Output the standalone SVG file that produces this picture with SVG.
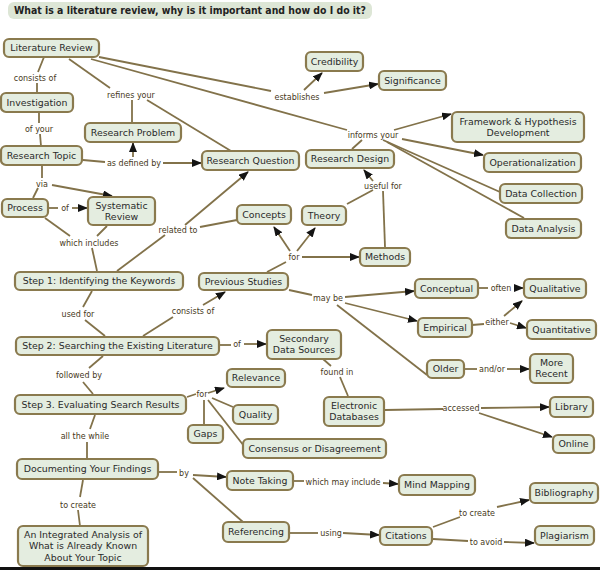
<svg xmlns="http://www.w3.org/2000/svg" width="600" height="570" viewBox="0 0 600 570">
<style>
.nd rect{fill:#e4ede0;stroke:#8a7a4e;stroke-width:2.2}
.nd text{font-family:"DejaVu Sans",Verdana,sans-serif;font-size:9.4px;fill:#2a2a2a;text-anchor:middle}
.lb{font-family:"DejaVu Sans",Verdana,sans-serif;font-size:8px;fill:#47391b;text-anchor:middle}
#connectors line{stroke:#82724a;stroke-width:1.8;fill:none}
#connectors line.a{marker-end:url(#arr)}
.title{font-family:"DejaVu Sans",Verdana,sans-serif;font-size:10px;font-weight:bold;fill:#222}
</style>
<defs>
<marker id="arr" markerUnits="userSpaceOnUse" markerWidth="10" markerHeight="8" refX="9" refY="4" orient="auto">
<path d="M0,0 L10,4 L0,8 z" fill="#141414"/>
</marker>
</defs>
<rect width="600" height="570" fill="#ffffff"/>
<g id="title">
<rect x="8" y="2" width="364" height="17" rx="6" fill="#dde6d6"/>
<text class="title" x="14" y="14" textLength="352" lengthAdjust="spacingAndGlyphs">What is a literature review, why is it important and how do I do it?</text>
</g>
<g id="connectors">
<line x1="44" y1="57" x2="38" y2="72"/>
<line x1="37" y1="83" x2="37" y2="93"/>
<line x1="39" y1="112" x2="39" y2="123"/>
<line x1="40" y1="134" x2="41" y2="146"/>
<line x1="69" y1="59" x2="110" y2="88"/>
<line x1="132" y1="100" x2="132" y2="123"/>
<line x1="147" y1="100" x2="231" y2="151"/>
<line x1="83" y1="160" x2="105" y2="162"/>
<line class="a" x1="133" y1="157" x2="133" y2="143"/>
<line class="a" x1="163" y1="163" x2="201" y2="163"/>
<line x1="99" y1="57" x2="271" y2="91"/>
<line x1="91" y1="59" x2="347" y2="130"/>
<line class="a" x1="304" y1="90" x2="322" y2="73"/>
<line class="a" x1="324" y1="93" x2="378" y2="84"/>
<line x1="362" y1="140" x2="352" y2="149"/>
<line class="a" x1="394" y1="130" x2="451" y2="114"/>
<line class="a" x1="402" y1="139" x2="483" y2="155"/>
<line x1="383" y1="140" x2="500" y2="192"/>
<line x1="387" y1="142" x2="524" y2="218"/>
<line x1="42" y1="166" x2="42" y2="178"/>
<line x1="38" y1="188" x2="33" y2="198"/>
<line class="a" x1="52" y1="185" x2="112" y2="196"/>
<line x1="48" y1="208" x2="58" y2="208"/>
<line class="a" x1="72" y1="208" x2="87" y2="208"/>
<line x1="45" y1="218" x2="70" y2="236"/>
<line x1="107" y1="226" x2="97" y2="236"/>
<line x1="92" y1="248" x2="97" y2="271"/>
<line x1="117" y1="271" x2="165" y2="235"/>
<line class="a" x1="185" y1="225" x2="248" y2="172"/>
<line x1="200" y1="227" x2="237" y2="220"/>
<line x1="92" y1="291" x2="83" y2="307"/>
<line x1="85" y1="320" x2="105" y2="336"/>
<line x1="143" y1="336" x2="173" y2="317"/>
<line class="a" x1="203" y1="305" x2="225" y2="292"/>
<line x1="267" y1="272" x2="286" y2="262"/>
<line class="a" x1="290" y1="251" x2="274" y2="227"/>
<line class="a" x1="297" y1="251" x2="315" y2="228"/>
<line class="a" x1="302" y1="257" x2="359" y2="257"/>
<line x1="385" y1="247" x2="383" y2="191"/>
<line x1="347" y1="204" x2="373" y2="190"/>
<line class="a" x1="373" y1="181" x2="364" y2="170"/>
<line x1="289" y1="290" x2="312" y2="295"/>
<line class="a" x1="345" y1="297" x2="414" y2="291"/>
<line class="a" x1="345" y1="303" x2="417" y2="321"/>
<line x1="337" y1="305" x2="427" y2="375"/>
<line x1="478" y1="288" x2="488" y2="288"/>
<line class="a" x1="514" y1="288" x2="523" y2="288"/>
<line x1="472" y1="325" x2="484" y2="324"/>
<line class="a" x1="504" y1="316" x2="522" y2="301"/>
<line class="a" x1="510" y1="323" x2="526" y2="328"/>
<line x1="464" y1="369" x2="477" y2="369"/>
<line class="a" x1="507" y1="369" x2="529" y2="369"/>
<line x1="219" y1="345" x2="231" y2="345"/>
<line class="a" x1="244" y1="344" x2="266" y2="344"/>
<line x1="323" y1="359" x2="331" y2="366"/>
<line x1="340" y1="377" x2="348" y2="396"/>
<line x1="103" y1="356" x2="89" y2="368"/>
<line x1="83" y1="382" x2="93" y2="394"/>
<line x1="187" y1="397" x2="196" y2="394"/>
<line class="a" x1="208" y1="393" x2="224" y2="388"/>
<line x1="212" y1="398" x2="233" y2="407"/>
<line x1="204" y1="400" x2="204" y2="425"/>
<line x1="208" y1="400" x2="244" y2="446"/>
<line x1="95" y1="415" x2="90" y2="429"/>
<line x1="87" y1="442" x2="87" y2="459"/>
<line x1="158" y1="472" x2="177" y2="472"/>
<line class="a" x1="193" y1="475" x2="226" y2="477"/>
<line x1="193" y1="478" x2="243" y2="522"/>
<line x1="83" y1="480" x2="80" y2="497"/>
<line x1="78" y1="510" x2="80" y2="526"/>
<line x1="294" y1="481" x2="304" y2="481"/>
<line class="a" x1="383" y1="483" x2="398" y2="484"/>
<line x1="385" y1="410" x2="443" y2="409"/>
<line class="a" x1="481" y1="408" x2="549" y2="407"/>
<line class="a" x1="479" y1="413" x2="552" y2="437"/>
<line x1="290" y1="533" x2="318" y2="533"/>
<line class="a" x1="343" y1="533" x2="379" y2="535"/>
<line x1="433" y1="527" x2="460" y2="517"/>
<line class="a" x1="497" y1="507" x2="529" y2="500"/>
<line x1="433" y1="539" x2="468" y2="541"/>
<line class="a" x1="504" y1="542" x2="534" y2="543"/>
</g>
<g id="labels">
<text class="lb" x="35" y="81">consists of</text>
<text class="lb" x="131" y="98">refines your</text>
<text class="lb" x="39" y="132">of your</text>
<text class="lb" x="134" y="166">as defined by</text>
<text class="lb" x="297" y="100">establishes</text>
<text class="lb" x="373" y="138">informs your</text>
<text class="lb" x="42" y="187">via</text>
<text class="lb" x="65" y="211">of</text>
<text class="lb" x="89" y="246">which includes</text>
<text class="lb" x="178" y="233">related to</text>
<text class="lb" x="383" y="189">useful for</text>
<text class="lb" x="294" y="260">for</text>
<text class="lb" x="78" y="317">used for</text>
<text class="lb" x="193" y="314">consists of</text>
<text class="lb" x="328" y="301">may be</text>
<text class="lb" x="501" y="291">often</text>
<text class="lb" x="497" y="325">either</text>
<text class="lb" x="237" y="347">of</text>
<text class="lb" x="492" y="372">and/or</text>
<text class="lb" x="337" y="375">found in</text>
<text class="lb" x="79" y="378">followed by</text>
<text class="lb" x="202" y="397">for</text>
<text class="lb" x="461" y="411">accessed</text>
<text class="lb" x="85" y="439">all the while</text>
<text class="lb" x="184" y="476">by</text>
<text class="lb" x="343" y="485">which may include</text>
<text class="lb" x="78" y="508">to create</text>
<text class="lb" x="477" y="516">to create</text>
<text class="lb" x="331" y="536">using</text>
<text class="lb" x="486" y="545">to avoid</text>
</g>
<g id="n-litreview" class="nd"><rect x="4" y="39" width="95" height="18" rx="5"/><text x="51.5" y="51.3">Literature Review</text></g>
<g id="n-investigation" class="nd"><rect x="1" y="93" width="72" height="19" rx="5"/><text x="37" y="105.8">Investigation</text></g>
<g id="n-researchproblem" class="nd"><rect x="85" y="123" width="96" height="19" rx="5"/><text x="133" y="135.8">Research Problem</text></g>
<g id="n-researchtopic" class="nd"><rect x="1" y="146" width="81" height="19" rx="5"/><text x="41.5" y="158.8">Research Topic</text></g>
<g id="n-researchquestion" class="nd"><rect x="202" y="151" width="97" height="19" rx="5"/><text x="250.5" y="163.8">Research Question</text></g>
<g id="n-credibility" class="nd"><rect x="306" y="52" width="57" height="19" rx="5"/><text x="334.5" y="64.8">Credibility</text></g>
<g id="n-significance" class="nd"><rect x="379" y="71" width="67" height="19" rx="5"/><text x="412.5" y="83.8">Significance</text></g>
<g id="n-framework" class="nd"><rect x="452" y="112" width="132" height="30" rx="5"/><text x="518" y="124.5">Framework &amp; Hypothesis</text><text x="518" y="135.5">Development</text></g>
<g id="n-researchdesign" class="nd"><rect x="306" y="150" width="88" height="18" rx="5"/><text x="350" y="162.3">Research Design</text></g>
<g id="n-operationalization" class="nd"><rect x="484" y="153" width="97" height="19" rx="5"/><text x="532.5" y="165.8">Operationalization</text></g>
<g id="n-datacollection" class="nd"><rect x="500" y="184" width="82" height="19" rx="5"/><text x="541" y="196.8">Data Collection</text></g>
<g id="n-dataanalysis" class="nd"><rect x="506" y="219" width="75" height="19" rx="5"/><text x="543.5" y="231.8">Data Analysis</text></g>
<g id="n-process" class="nd"><rect x="2" y="199" width="46" height="18" rx="5"/><text x="25" y="211.3">Process</text></g>
<g id="n-systematic" class="nd"><rect x="88" y="197" width="67" height="28" rx="5"/><text x="121.5" y="208.5">Systematic</text><text x="121.5" y="219.5">Review</text></g>
<g id="n-concepts" class="nd"><rect x="237" y="205" width="54" height="19" rx="5"/><text x="264" y="217.8">Concepts</text></g>
<g id="n-theory" class="nd"><rect x="302" y="206" width="44" height="19" rx="5"/><text x="324" y="218.8">Theory</text></g>
<g id="n-methods" class="nd"><rect x="360" y="248" width="50" height="18" rx="5"/><text x="385" y="260.3">Methods</text></g>
<g id="n-step1" class="nd"><rect x="15" y="272" width="168" height="18" rx="5"/><text x="99" y="284.3">Step 1: Identifying the Keywords</text></g>
<g id="n-previous" class="nd"><rect x="199" y="273" width="89" height="17" rx="5"/><text x="243.5" y="284.8">Previous Studies</text></g>
<g id="n-conceptual" class="nd"><rect x="415" y="279" width="63" height="19" rx="5"/><text x="446.5" y="291.8">Conceptual</text></g>
<g id="n-qualitative" class="nd"><rect x="524" y="279" width="62" height="19" rx="5"/><text x="555" y="291.8">Qualitative</text></g>
<g id="n-empirical" class="nd"><rect x="418" y="318" width="54" height="19" rx="5"/><text x="445" y="330.8">Empirical</text></g>
<g id="n-quantitative" class="nd"><rect x="527" y="320" width="69" height="19" rx="5"/><text x="561.5" y="332.8">Quantitative</text></g>
<g id="n-step2" class="nd"><rect x="16" y="337" width="203" height="18" rx="5"/><text x="117.5" y="349.3">Step 2: Searching the Existing Literature</text></g>
<g id="n-secondary" class="nd"><rect x="267" y="330" width="74" height="29" rx="5"/><text x="304" y="342">Secondary</text><text x="304" y="353">Data Sources</text></g>
<g id="n-older" class="nd"><rect x="427" y="360" width="37" height="18" rx="5"/><text x="445.5" y="372.3">Older</text></g>
<g id="n-morerecent" class="nd"><rect x="530" y="354" width="43" height="29" rx="5"/><text x="551.5" y="366">More</text><text x="551.5" y="377">Recent</text></g>
<g id="n-relevance" class="nd"><rect x="227" y="369" width="58" height="18" rx="5"/><text x="256" y="381.3">Relevance</text></g>
<g id="n-step3" class="nd"><rect x="15" y="395" width="171" height="19" rx="5"/><text x="100.5" y="407.8">Step 3. Evaluating Search Results</text></g>
<g id="n-electronic" class="nd"><rect x="324" y="397" width="60" height="29" rx="5"/><text x="354" y="409">Electronic</text><text x="354" y="420">Databases</text></g>
<g id="n-library" class="nd"><rect x="550" y="397" width="43" height="20" rx="5"/><text x="571.5" y="410.3">Library</text></g>
<g id="n-quality" class="nd"><rect x="233" y="405" width="45" height="19" rx="5"/><text x="255.5" y="417.8">Quality</text></g>
<g id="n-gaps" class="nd"><rect x="188" y="425" width="35" height="18" rx="5"/><text x="205.5" y="437.3">Gaps</text></g>
<g id="n-online" class="nd"><rect x="553" y="435" width="41" height="18" rx="5"/><text x="573.5" y="447.3">Online</text></g>
<g id="n-consensus" class="nd"><rect x="243" y="439" width="143" height="19" rx="5"/><text x="314.5" y="451.8">Consensus or Disagreement</text></g>
<g id="n-documenting" class="nd"><rect x="17" y="459" width="141" height="20" rx="5"/><text x="87.5" y="472.3">Documenting Your Findings</text></g>
<g id="n-notetaking" class="nd"><rect x="227" y="471" width="66" height="19" rx="5"/><text x="260" y="483.8">Note Taking</text></g>
<g id="n-mindmapping" class="nd"><rect x="399" y="475" width="76" height="20" rx="5"/><text x="437" y="488.3">Mind Mapping</text></g>
<g id="n-bibliography" class="nd"><rect x="530" y="483" width="68" height="20" rx="5"/><text x="564" y="496.3">Bibliography</text></g>
<g id="n-integrated" class="nd"><rect x="18" y="526" width="130" height="40" rx="5"/><text x="83" y="537.5">An Integrated Analysis of</text><text x="83" y="549">What is Already Known</text><text x="83" y="560.5">About Your Topic</text></g>
<g id="n-referencing" class="nd"><rect x="223" y="522" width="66" height="20" rx="5"/><text x="256" y="535.3">Referencing</text></g>
<g id="n-citations" class="nd"><rect x="380" y="527" width="52" height="18" rx="5"/><text x="406" y="539.3">Citations</text></g>
<g id="n-plagiarism" class="nd"><rect x="535" y="526" width="59" height="19" rx="5"/><text x="564.5" y="538.8">Plagiarism</text></g>
<rect x="0" y="567" width="600" height="3" fill="#111111"/>
</svg>
